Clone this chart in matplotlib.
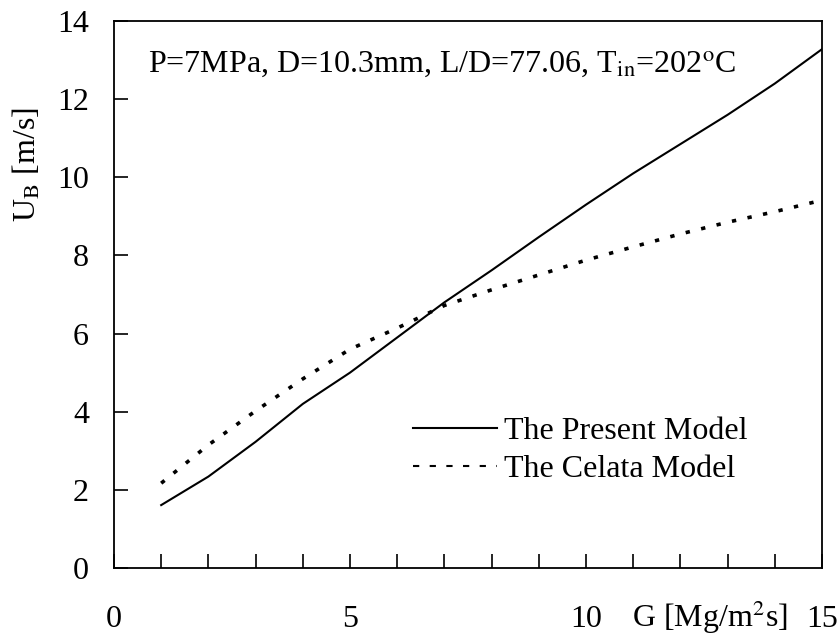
import numpy as np
import matplotlib
matplotlib.use("Agg")
import matplotlib.pyplot as plt
from matplotlib.lines import Line2D

plt.rcParams['font.family'] = ['Liberation Serif', 'DejaVu Serif']
plt.rcParams['mathtext.fontset'] = 'stix'

# mass flux G [Mg/m2s]
g_present = [1, 2, 3, 4, 5, 6, 7, 8, 9, 10, 11, 12, 13, 14, 15]
u_present = [1.61, 2.34, 3.23, 4.2, 5.0, 5.9, 6.8, 7.62, 8.47, 9.3, 10.1,
             10.85, 11.6, 12.4, 13.28]

g_celata = [1, 2, 3, 4, 5, 6, 7, 8, 9, 10, 11, 12, 13, 14, 14.85]
u_celata = [2.17, 3.15, 4.02, 4.84, 5.6, 6.14, 6.72, 7.12, 7.5, 7.88, 8.22,
            8.55, 8.85, 9.12, 9.37]

x_ticks = list(range(0, 16))
x_labels = ['0', '', '', '', '', '5', '', '', '', '', '10', '', '', '', '', '15']
y_ticks = [0, 2, 4, 6, 8, 10, 12, 14]

FS = 23

fig = plt.figure(figsize=(8.4, 6.41), dpi=100)
ax = fig.add_axes([0.1357, 0.1139, 0.8429, 0.8533])

ax.plot(g_present, u_present, color='black', lw=1.5)
ax.plot(g_celata, u_celata, color='black', lw=2.6, linestyle=(0, (1.2, 3.2)))

ax.set_xlim(0, 15)
ax.set_ylim(0, 14)
ax.set_xticks(x_ticks)
ax.set_xticklabels(x_labels)
ax.set_yticks(y_ticks)
ax.tick_params(axis='x', direction='in', length=10, width=1.2, pad=27, labelsize=FS)
ax.tick_params(axis='y', direction='in', length=10, width=1.2, pad=18, labelsize=FS)
for s in ax.spines.values():
    s.set_linewidth(1.3)

# y label sits high on the axis, x label in the tick-label row
ax.text(-0.123, 0.737, r'U$_\mathrm{B}$ [m/s]', transform=ax.transAxes,
        rotation=90, ha='center', va='center', fontsize=FS)
ax.text(12.63, -0.0896, r'G [Mg/m$^\mathrm{2}$s]',
        transform=ax.get_xaxis_transform(), ha='center', va='center', fontsize=FS)

ax.text(0.72, 12.87, r'P=7MPa, D=10.3mm, L/D=77.06, T$_\mathrm{in}$=202$^\mathrm{o}$C',
        ha='left', va='center', fontsize=FS)

handles = [Line2D([], [], color='black', lw=1.5),
           Line2D([], [], color='black', lw=1.5, linestyle=(0, (3, 5)))]
ax.legend(handles, ['The Present Model', 'The Celata Model'],
          loc='upper left', bbox_to_anchor=(0.422, 0.277), frameon=False,
          fontsize=FS, handlelength=2.65, handletextpad=0.22,
          labelspacing=0.28, borderpad=0, borderaxespad=0)

fig.savefig('out.png', dpi=100)
